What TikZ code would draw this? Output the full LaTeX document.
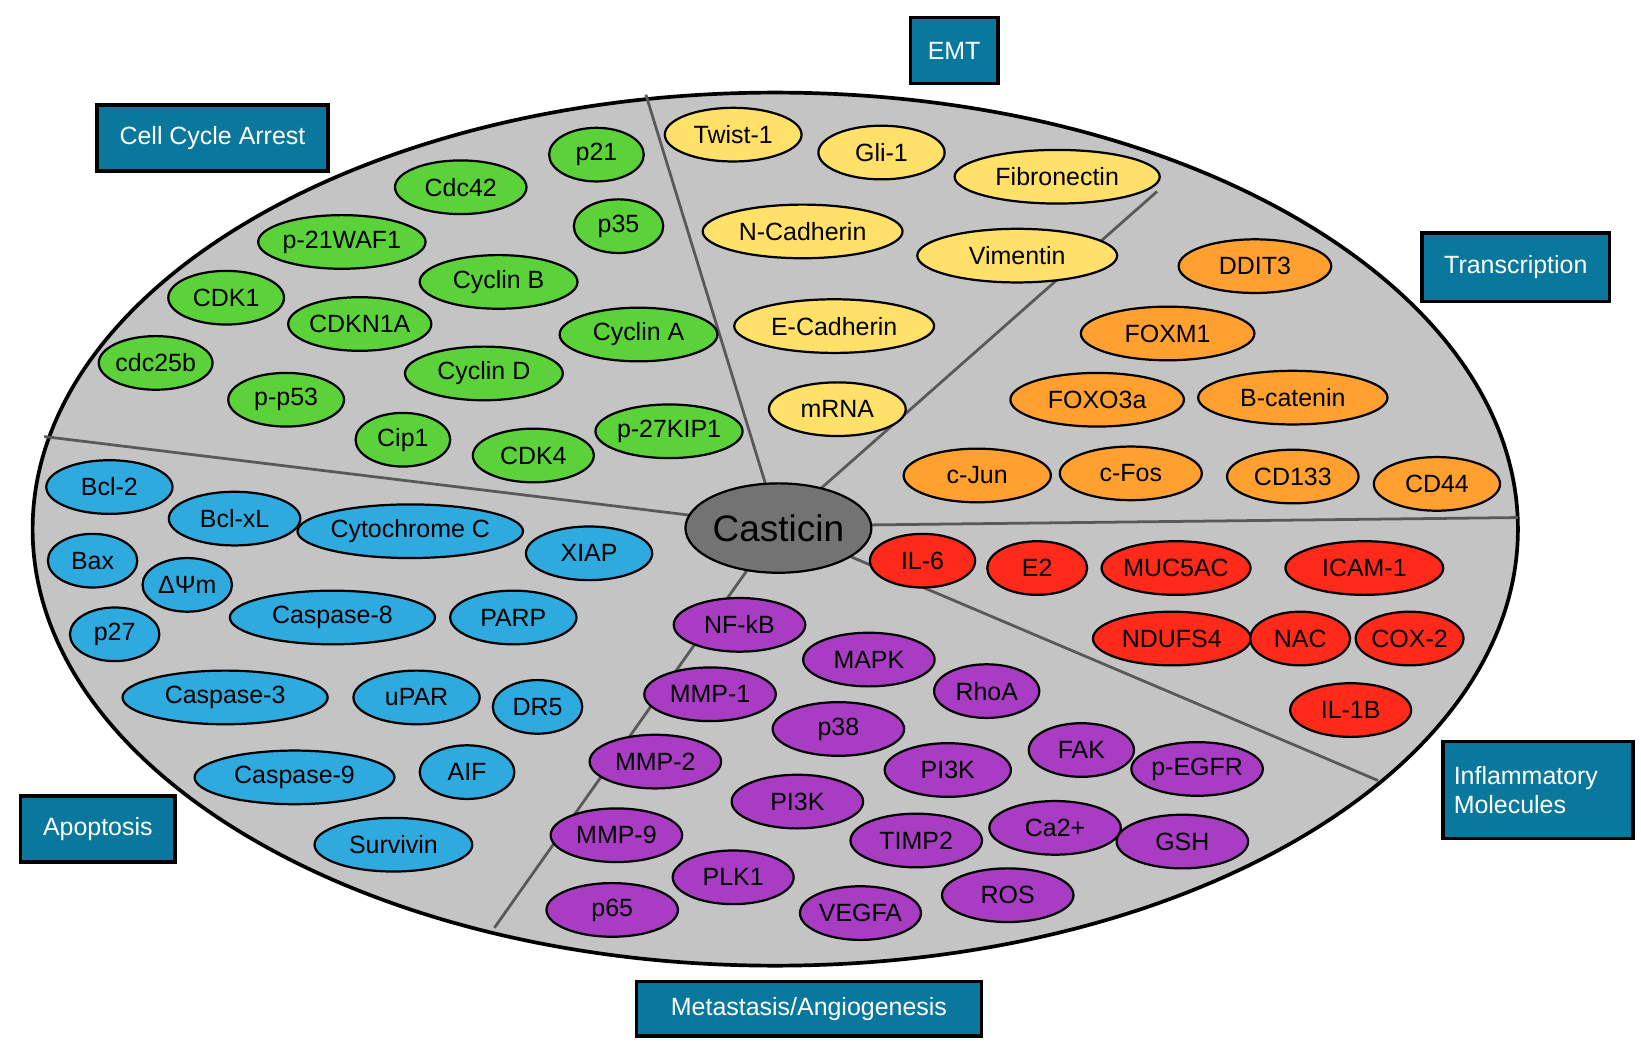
\documentclass[tikz,border=0pt]{standalone}
\usepackage{fontspec}
\setmainfont{Liberation Sans}
\usetikzlibrary{shapes.geometric}
\definecolor{boxblue}{HTML}{0A789C}
\definecolor{cgreen}{HTML}{5CD23A}
\definecolor{cyellow}{HTML}{FFE068}
\definecolor{corange}{HTML}{FFA030}
\definecolor{cred}{HTML}{FF2A1A}
\definecolor{cpurple}{HTML}{A83CC2}
\definecolor{cblue}{HTML}{2EAADF}
\definecolor{disc}{HTML}{C4C4C4}

\begin{document}
\begin{tikzpicture}[x=0.02cm,y=-0.02cm,
  mol/.style={ellipse,draw=black,line width=1.2pt,inner sep=0pt,minimum height=1.02cm,
    font=\fontsize{13.5}{16}\selectfont},
  group/.style={rectangle,draw=black,line width=2pt,fill=boxblue,text=white,
    font=\fontsize{13.5}{16}\selectfont,align=left,inner sep=0pt}]
\useasboundingbox (0,0) rectangle (1560,998);
\fill[disc,draw=black,line width=2pt] (737,503) ellipse [x radius=706,y radius=415];
% sector borders
\coordinate (c) at (740,500);
\foreach \p in {(614,90),(1100,182),(1443,492),(1310,742),(470,882),(42,415)}{
\draw[gray!70!black,line width=1.5pt] (c) -- \p;
}
% cell cycle arrest
\foreach \n/\x/\y/\w/\t in {g1/567/147/90/p21,g2/438/178/125/Cdc42,g3/588/215/85/p35,
 g4/325/230/150/p-21WAF1,g5/474/268/150/Cyclin B,g6/215/283/110/CDK1,g7/342/308/120/CDKN1A,
 g8/607/318/150/Cyclin A,g9/148/345/105/cdc25b,g10/460/355/150/Cyclin D,g11/272/380/110/p-p53,
 g12/383/418/90/Cip1,g13/507/433/115/CDK4,g14/636/410/120/p-27KIP1}{
\node[mol,fill=cgreen,minimum width=\w*0.02cm] (\n) at (\x,\y) {\t};
}
% EMT
\foreach \n/\x/\y/\w/\t in {y1/697/128/130/Twist-1,y2/838/145/120/Gli-1,y3/1005/168/195/Fibronectin,
 y4/763/220/190/N-Cadherin,y5/967/243/190/Vimentin,y6/793/310/190/E-Cadherin,y7/796/389/130/mRNA}{
\node[mol,fill=cyellow,minimum width=\w*0.02cm] (\n) at (\x,\y) {\t};
}
% transcription
\foreach \n/\x/\y/\w/\t in {o1/1193/253/145/DDIT3,o2/1110/317/165/FOXM1,o3/1043/380/165/FOXO3a,
 o4/1229/378/180/B-catenin,o5/929/452/140/c-Jun,o6/1075/450/135/c-Fos,o7/1229/453/125/CD133,
 o8/1366/460/120/CD44}{
\node[mol,fill=corange,minimum width=\w*0.02cm] (\n) at (\x,\y) {\t};
}
% inflammatory molecules
\foreach \n/\x/\y/\w/\t in {r1/877/533/100/IL-6,r2/986/540/95/E2,r3/1118/540/135/MUC5AC,
 r4/1297/540/150/ICAM-1,r5/1114/607/150/NDUFS4,r6/1236/607/95/NAC,r7/1340/607/100/COX-2,
 r8/1284/675/115/IL-1B}{
\node[mol,fill=cred,minimum width=\w*0.02cm] (\n) at (\x,\y) {\t};
}
% metastasis / angiogenesis
\foreach \n/\x/\y/\w/\t in {m1/703/594/125/NF-kB,m2/826/627/125/MAPK,m3/938/657/100/RhoA,
 m4/675/660/125/MMP-1,m5/797/693/125/p38,m6/623/724/125/MMP-2,m7/901/732/120/PI3K,
 m8/1028/713/100/FAK,m9/1138/731/125/p-EGFR,m10/758/762/125/PI3K,m11/586/794/125/MMP-9,
 m12/871/799/125/TIMP2,m13/1003/787/125/Ca2+,m14/1124/800/125/GSH,m15/697/834/115/PLK1,
 m16/582/865/125/p65,m17/818/868/115/VEGFA,m18/958/851/125/ROS}{
\node[mol,fill=cpurple,minimum width=\w*0.02cm] (\n) at (\x,\y) {\t};
}
% apoptosis
\foreach \n/\x/\y/\w/\t in {b1/104/463/120/Bcl-2,b2/223/493/125/Bcl-xL,b3/390/505/190/Cytochrome C,
 b4/560/526/120/XIAP,b5/88/533/85/Bax,b6/178/556/85/ΔΨm,b7/316/587/195/Caspase-8,
 b8/488/587/120/PARP,b9/109/603/85/p27,b10/214/663/195/Caspase-3,b11/396/663/120/uPAR,
 b12/511/672/85/DR5,b13/280/739/190/Caspase-9,b14/444/734/90/AIF,b15/374/803/150/Survivin}{
\node[mol,fill=cblue,minimum width=\w*0.02cm] (\n) at (\x,\y) {\t};
}
\node[mol,fill=gray!110,fill=black!55,minimum width=3.4cm,minimum height=1.7cm,
  font=\fontsize{20}{24}\selectfont] (cas) at (740,502) {Casticin};
% group labels
\node[group,minimum width=4.4cm,minimum height=1.26cm] (cca) at (202,131) {Cell Cycle Arrest};
\node[group,minimum width=1.66cm,minimum height=1.26cm] (emt) at (907,48) {EMT};
\node[group,minimum width=3.56cm,minimum height=1.3cm] (tr) at (1441,254) {Transcription};
\node[group,minimum width=3.62cm,minimum height=1.84cm,text width=3.2cm] (inf) at (1462,751) {Inflammatory\\Molecules};
\node[group,minimum width=2.94cm,minimum height=1.26cm] (apo) at (93,788) {Apoptosis};
\node[group,minimum width=6.56cm,minimum height=1.04cm] (met) at (769,959) {Metastasis/Angiogenesis};
\end{tikzpicture}
\end{document}
